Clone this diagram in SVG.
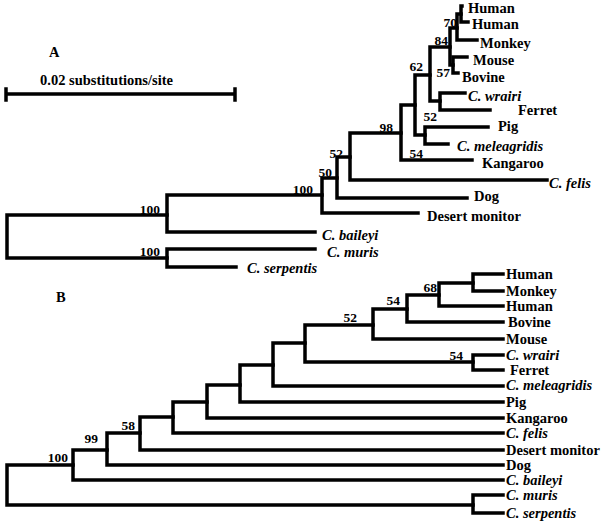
<svg xmlns="http://www.w3.org/2000/svg" width="607" height="525" viewBox="0 0 607 525">
<style>
text{font-family:"Liberation Serif","Times New Roman",serif;font-weight:bold;fill:#000}
.leaf{font-size:14.5px}
.sp{font-style:italic}
.bs{font-size:13.5px;text-anchor:end}
.ttl{font-size:14.5px}
.br{stroke:#000;stroke-width:3.5;fill:none;stroke-linecap:square}
</style>
<rect width="607" height="525" fill="#fff"/>
<g id="titles">
<text class="ttl" x="49" y="57">A</text>
<text class="ttl" x="56" y="302">B</text>
<text class="ttl" x="40" y="85">0.02 substitutions/site</text>
</g>
<g id="scalebar" class="br">
<path d="M6 94H235M6 89V100M235 89V100"/>
</g>
<g id="connectors" class="br">
<!-- Tree A -->
<path d="M7 215V258M7 215H167M7 258H167"/>
<path d="M167 195V232M167 195H322M167 232H315"/>
<path d="M167 249V267M167 249H315M167 267H236"/>
<path d="M322 178V213M322 213H418M322 178H337"/>
<path d="M337 157V198M337 198H467M337 157H350"/>
<path d="M350 133V180M350 180H547M350 133H401"/>
<path d="M401 105V160M401 160H472M401 105H415"/>
<path d="M415 75V135M415 135H425M415 75H430"/>
<path d="M425 127V144M425 127H488M425 144H448"/>
<path d="M430 47V101M430 101H440M430 47H450"/>
<path d="M440 93V110M440 93H465M440 110H490"/>
<path d="M450 28V65M450 65H453M450 28H457"/>
<path d="M453 57V73M453 57H467M453 73H458"/>
<path d="M457 14V40M457 40H477M457 14H461"/>
<path d="M461 6V22M461 22H468M461 6H462"/>
<!-- Tree B -->
<path d="M7 465V505M7 465H73M7 505H473"/>
<path d="M473 495V513M473 495H503M473 513H503"/>
<path d="M73 450V480M73 480H503M73 450H107"/>
<path d="M107 433V465M107 465H503M107 433H140"/>
<path d="M140 417V450M140 450H503M140 417H173"/>
<path d="M173 402V433M173 433H503M173 402H207"/>
<path d="M207 385V418M207 418H503M207 385H240"/>
<path d="M240 365V402M240 402H503M240 365H273"/>
<path d="M273 343V386M273 386H503M273 343H305"/>
<path d="M305 325V362M305 362H473M305 325H373"/>
<path d="M473 355V370M473 355H503M473 370H503"/>
<path d="M373 309V339M373 339H503M373 309H407"/>
<path d="M407 295V322M407 322H503M407 295H439"/>
<path d="M439 283V306M439 306H503M439 283H473"/>
<path d="M473 274V291M473 274H503M473 291H503"/>
</g>
<g id="bootstrap">
<text class="bs" x="457" y="27">70</text>
<text class="bs" x="448" y="45">84</text>
<text class="bs" x="450" y="77">57</text>
<text class="bs" x="423" y="71">62</text>
<text class="bs" x="437" y="121">52</text>
<text class="bs" x="393" y="132">98</text>
<text class="bs" x="423" y="158">54</text>
<text class="bs" x="343" y="158">52</text>
<text class="bs" x="332" y="177">50</text>
<text class="bs" x="313" y="194">100</text>
<text class="bs" x="160" y="214">100</text>
<text class="bs" x="160" y="256">100</text>
<text class="bs" x="437" y="292">68</text>
<text class="bs" x="400" y="305">54</text>
<text class="bs" x="357" y="322">52</text>
<text class="bs" x="463" y="360">54</text>
<text class="bs" x="135" y="430">58</text>
<text class="bs" x="98" y="443">99</text>
<text class="bs" x="68" y="462">100</text>
</g>
<g id="treeA-leaves" class="leaf">
<g id="a-human1"><text x="468" y="13">Human</text></g>
<g id="a-human2"><text x="472" y="29">Human</text></g>
<g id="a-monkey"><text x="480" y="48">Monkey</text></g>
<g id="a-mouse"><text x="473" y="65">Mouse</text></g>
<g id="a-bovine"><text x="462" y="82">Bovine</text></g>
<g id="a-wrairi"><text class="sp" x="468" y="101">C. wrairi</text></g>
<g id="a-ferret"><text x="518" y="115">Ferret</text></g>
<g id="a-pig"><text x="498" y="131">Pig</text></g>
<g id="a-meleagridis"><text class="sp" x="457" y="151">C. meleagridis</text></g>
<g id="a-kangaroo"><text x="482" y="168">Kangaroo</text></g>
<g id="a-felis"><text class="sp" x="549" y="188">C. felis</text></g>
<g id="a-dog"><text x="474" y="201">Dog</text></g>
<g id="a-desert"><text x="427" y="221">Desert monitor</text></g>
<g id="a-baileyi"><text class="sp" x="322" y="240">C. baileyi</text></g>
<g id="a-muris"><text class="sp" x="327" y="257">C. muris</text></g>
<g id="a-serpentis"><text class="sp" x="247" y="273">C. serpentis</text></g>
</g>
<g id="treeB-leaves" class="leaf">
<g id="b-human1"><text x="506" y="279">Human</text></g>
<g id="b-monkey"><text x="506" y="296">Monkey</text></g>
<g id="b-human2"><text x="506" y="311">Human</text></g>
<g id="b-bovine"><text x="508" y="327">Bovine</text></g>
<g id="b-mouse"><text x="506" y="344">Mouse</text></g>
<g id="b-wrairi"><text class="sp" x="506" y="360">C. wrairi</text></g>
<g id="b-ferret"><text x="510" y="375">Ferret</text></g>
<g id="b-meleagridis"><text class="sp" x="506" y="390">C. meleagridis</text></g>
<g id="b-pig"><text x="506" y="407">Pig</text></g>
<g id="b-kangaroo"><text x="506" y="423">Kangaroo</text></g>
<g id="b-felis"><text class="sp" x="506" y="438">C. felis</text></g>
<g id="b-desert"><text x="506" y="455">Desert monitor</text></g>
<g id="b-dog"><text x="506" y="470">Dog</text></g>
<g id="b-baileyi"><text class="sp" x="506" y="485">C. baileyi</text></g>
<g id="b-muris"><text class="sp" x="506" y="500">C. muris</text></g>
<g id="b-serpentis"><text class="sp" x="506" y="518">C. serpentis</text></g>
</g>
</svg>
